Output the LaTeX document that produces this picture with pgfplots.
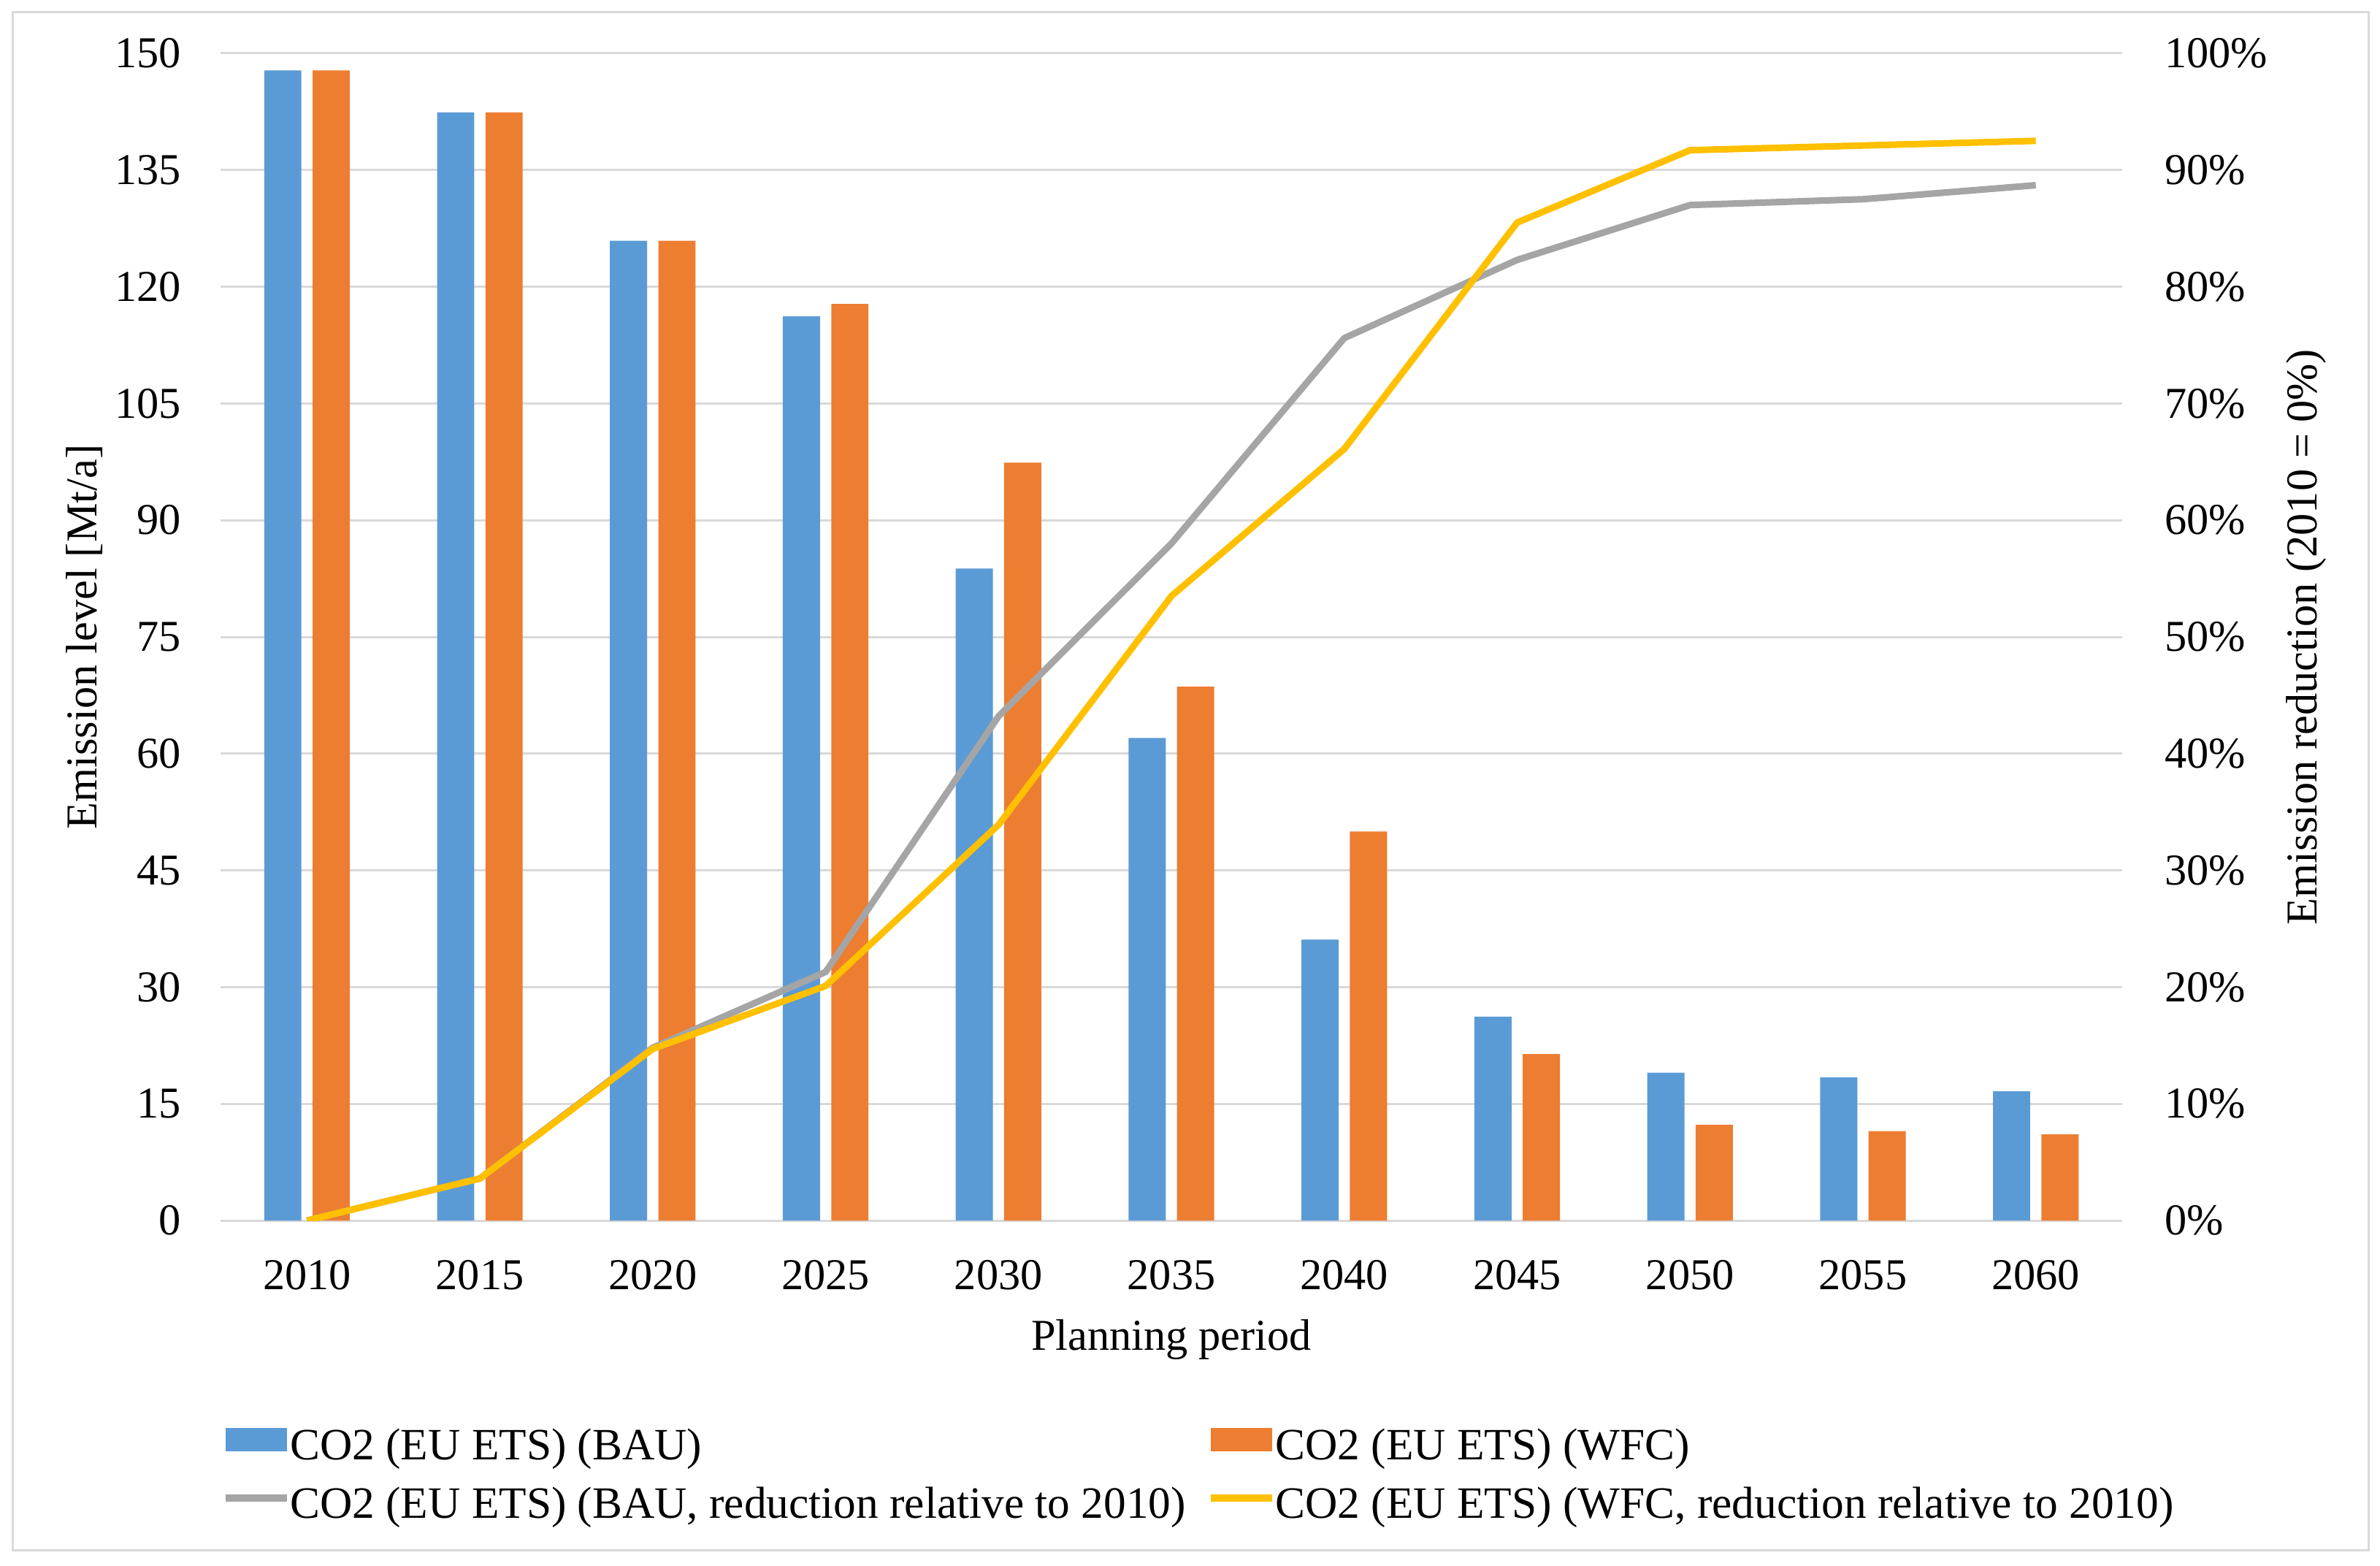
\documentclass[border=0pt]{standalone}
\usepackage{fontspec}
\setmainfont{Liberation Serif}
\usepackage{pgfplots}
\pgfplotsset{compat=1.18}

\definecolor{bau}{HTML}{5B9BD5}
\definecolor{wfc}{HTML}{ED7D31}
\definecolor{baul}{HTML}{A5A5A5}
\definecolor{wfcl}{HTML}{FFC000}
\definecolor{gridgrey}{HTML}{D9D9D9}

\pgfplotsset{
  barlegend/.style={legend image code/.code={\fill[##1] (0pt,-1.5pt) rectangle (12.6pt,3.3pt);}},
  linelegend/.style={legend image code/.code={\draw[##1] (0pt,0.9pt) -- (12.6pt,0.9pt);}},
  frame/.style={
    at={(45.3pt,70.8pt)}, anchor=south west,
    width=390.6pt, height=239.7pt, scale only axis,
    xmin=-0.5, xmax=10.5,
    axis line style={draw=none},
    major tick length=0pt,
    /pgf/number format/assume math mode=true,
  },
}

\begin{document}
\fontsize{9.05}{10.9}\selectfont
\begin{tikzpicture}
\path[use as bounding box] (0pt,0pt) rectangle (488.85pt,321.45pt);
\draw[gridgrey, line width=0.45pt] (2.55pt,3.15pt) rectangle (486.45pt,318.9pt);

% emission levels (left axis)
\begin{axis}[
  frame,
  ymin=0, ymax=150,
  xtick={0,...,10},
  xticklabels={2010,2015,2020,2025,2030,2035,2040,2045,2050,2055,2060},
  ytick={0,15,...,150},
  ymajorgrids, grid style={gridgrey, line width=0.45pt},
  yticklabel style={anchor=east, inner sep=0pt, xshift=-7.95pt},
  xticklabel style={anchor=base, inner sep=0pt, yshift=-14.1pt},
  xlabel={Planning period},
  xlabel style={at={(rel axis cs:0.5,-0.1108)}, anchor=base, inner sep=0pt},
  ylabel={Emission level [Mt/a]},
  ylabel style={at={(rel axis cs:-0.0714,0.5)}, anchor=center, inner sep=0pt},
  legend columns=2,
  legend cell align=left,
  legend style={draw=none, fill=none, inner sep=0pt, outer sep=0pt,
    font=\fontsize{9.2}{11}\selectfont,
    at={(rel axis cs:0.0008,-0.2165)}, anchor=west,
    row sep=2.95pt, column sep=0pt, nodes={inner sep=0pt}},
]
\addplot[ybar, bar width=0.215, bar shift=-0.14, fill=bau, draw=none, barlegend]
  coordinates {(0,147.8) (1,142.4) (2,125.9) (3,116.2) (4,83.8) (5,62.0)
               (6,36.1) (7,26.2) (8,19.0) (9,18.4) (10,16.6)};
\addlegendentry{\makebox[188.4pt][l]{CO2 (EU ETS) (BAU)\strut}}
\addplot[ybar, bar width=0.215, bar shift=0.14, fill=wfc, draw=none, barlegend]
  coordinates {(0,147.8) (1,142.4) (2,125.9) (3,117.8) (4,97.4) (5,68.6)
               (6,50.0) (7,21.4) (8,12.3) (9,11.5) (10,11.1)};
\addlegendentry{CO2 (EU ETS) (WFC)\strut}
\addlegendimage{linelegend, baul, line width=1.4pt}
\addlegendentry{\makebox[188.4pt][l]{CO2 (EU ETS) (BAU, reduction relative to 2010)\strut}}
\addlegendimage{linelegend, wfcl, line width=1.4pt}
\addlegendentry{CO2 (EU ETS) (WFC, reduction relative to 2010)\strut}
\end{axis}

% reduction relative to 2010 (right axis)
\begin{axis}[
  frame,
  ymin=0, ymax=100,
  xtick=\empty,
  ytick={0,10,...,100},
  yticklabel pos=right,
  yticklabel={\pgfmathprintnumber{\tick}\%},
  yticklabel style={anchor=west, inner sep=0pt, xshift=8.55pt},
  ylabel={Emission reduction (2010 = 0\%)},
  ylabel style={at={(rel axis cs:1.0968,0.5)}, anchor=center, inner sep=0pt},
]
\addplot[baul, line width=1.35pt, line join=round]
  coordinates {(0,0) (1,3.6) (2,14.8) (3,21.3) (4,43.2) (5,58.0)
               (6,75.6) (7,82.3) (8,87.0) (9,87.5) (10,88.7)};
\addplot[wfcl, line width=1.35pt, line join=round]
  coordinates {(0,0) (1,3.6) (2,14.7) (3,20.1) (4,33.9) (5,53.5)
               (6,66.1) (7,85.5) (8,91.7) (9,92.1) (10,92.5)};
\end{axis}
\end{tikzpicture}
\end{document}
